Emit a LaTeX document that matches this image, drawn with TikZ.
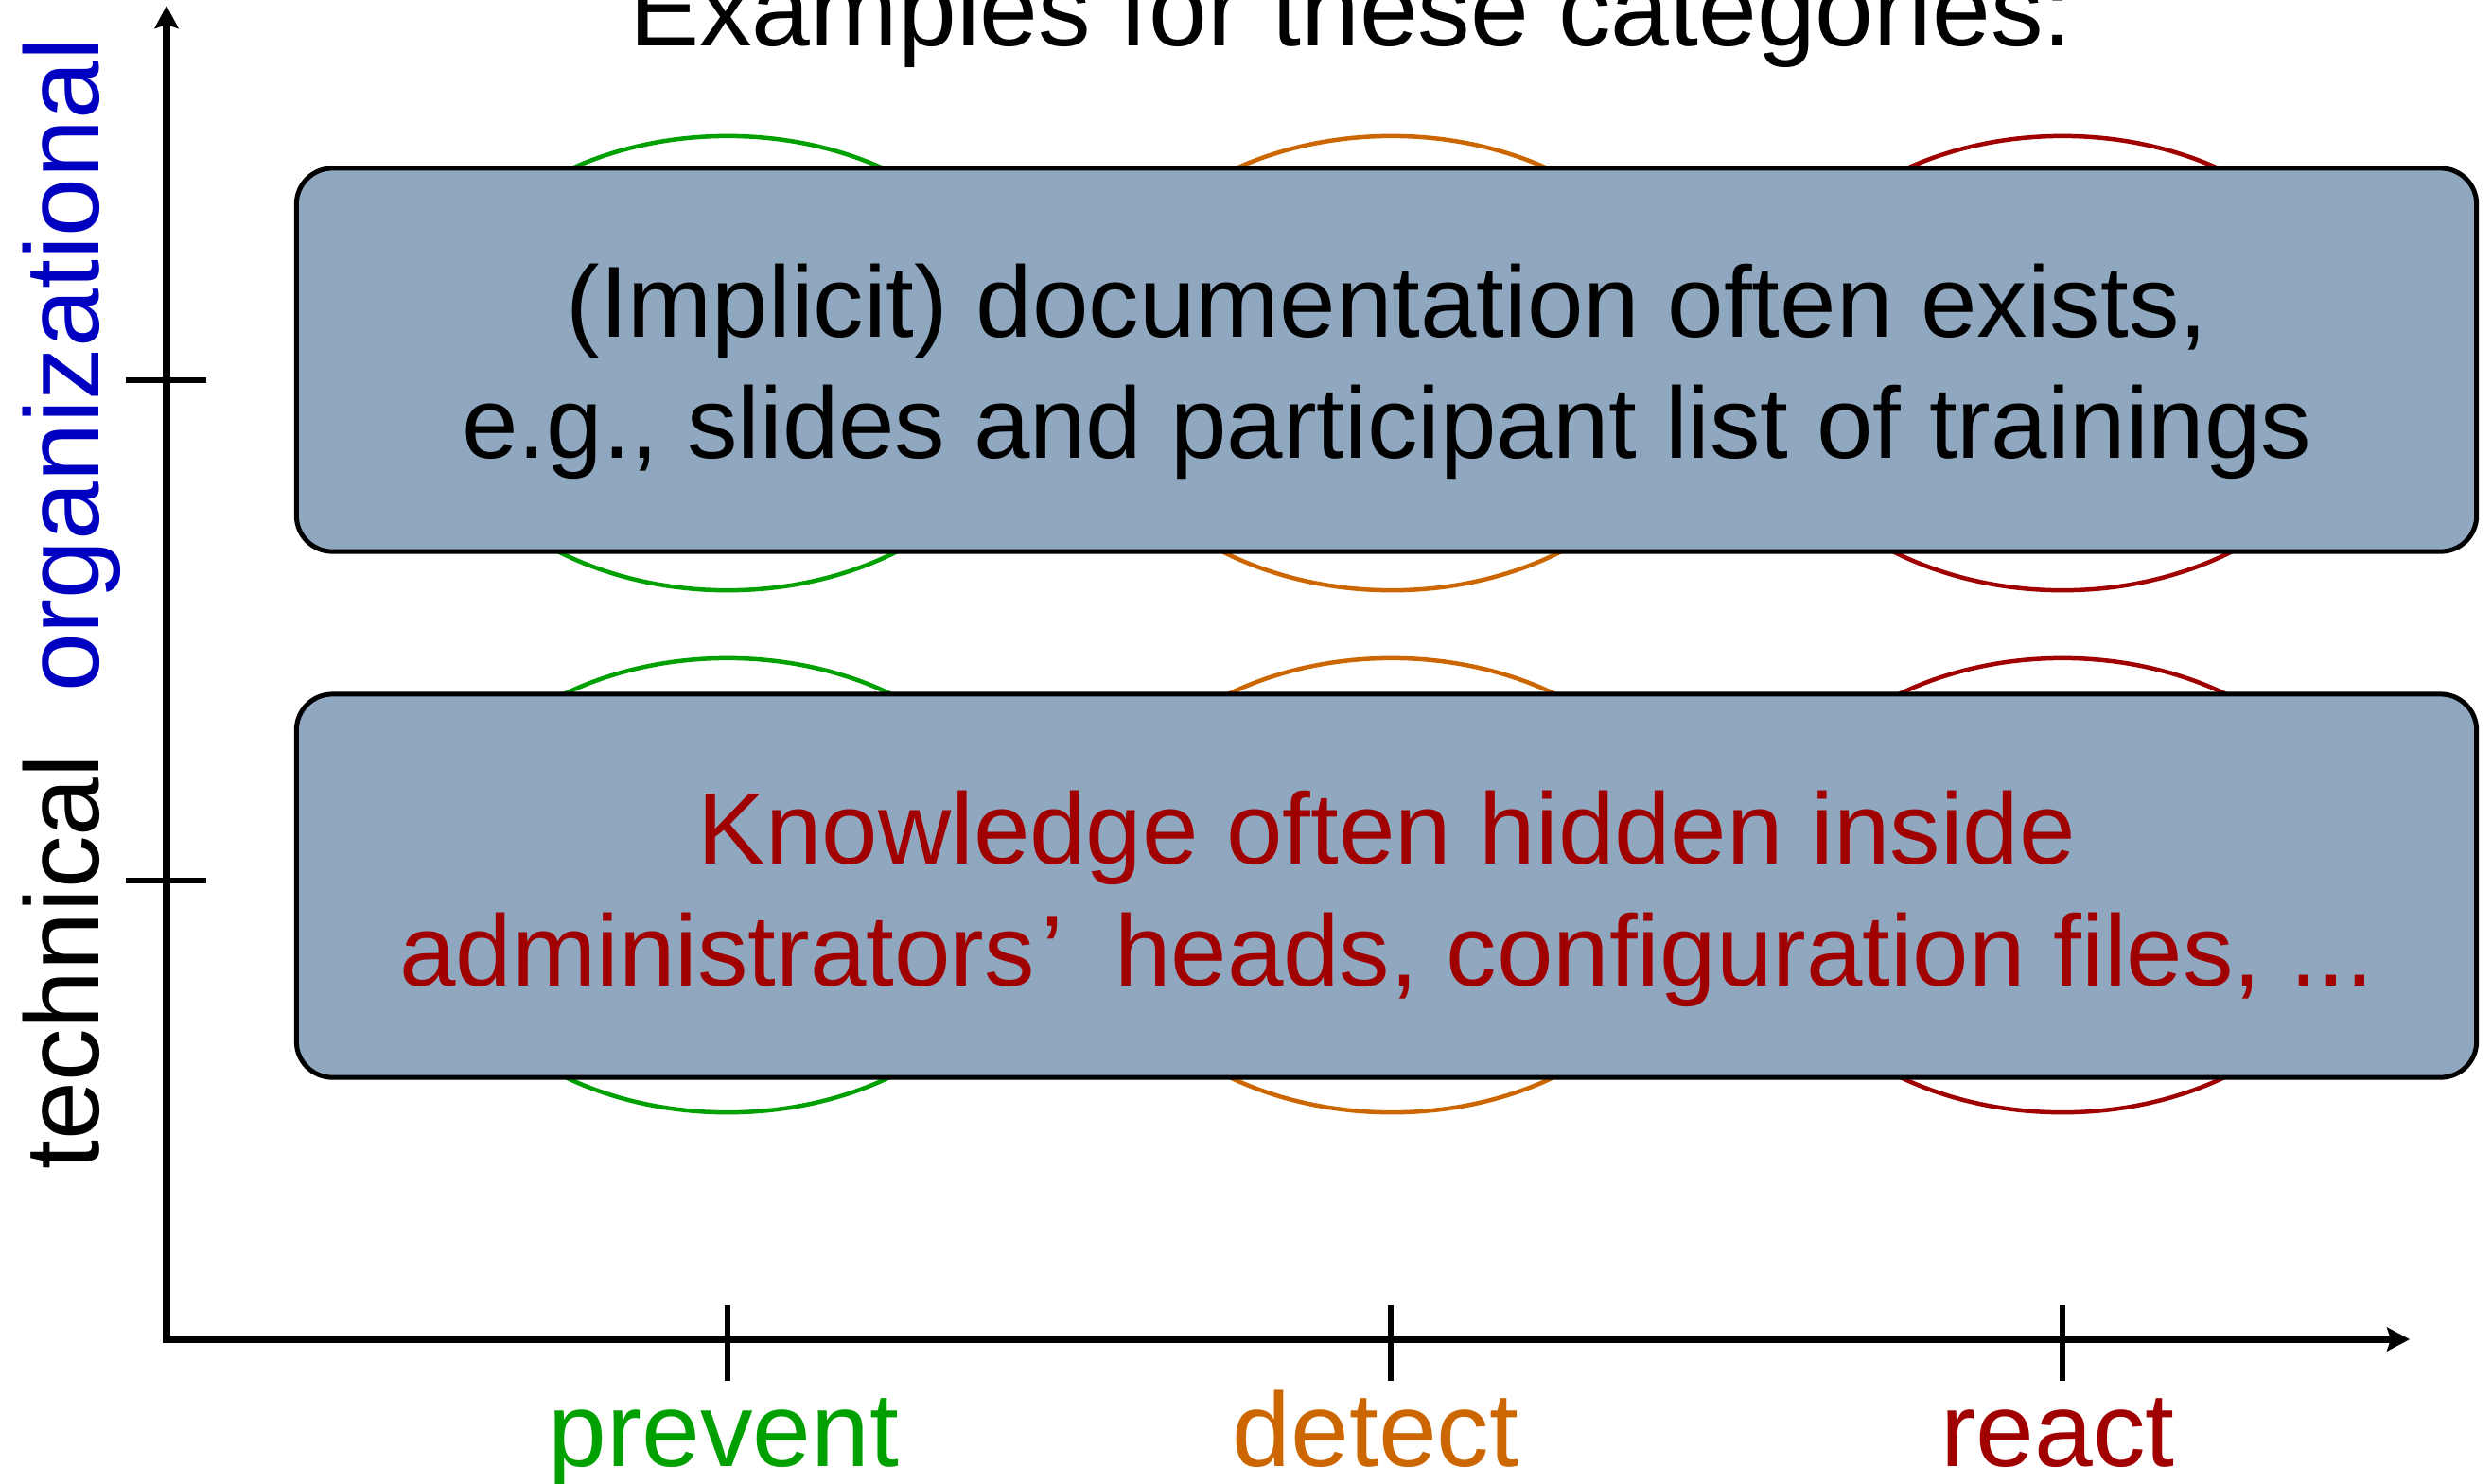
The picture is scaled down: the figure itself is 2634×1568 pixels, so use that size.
\documentclass[tikz,border=0pt]{standalone}
\usepackage{fontspec}
\setmainfont{Liberation Sans}
\usetikzlibrary{shapes.geometric,arrows.meta}

\definecolor{boxfill}{RGB}{143,168,192}
\definecolor{prevgreen}{RGB}{0,160,0}
\definecolor{detorange}{RGB}{204,102,0}
\definecolor{reactred}{RGB}{160,0,0}
\definecolor{orgblue}{RGB}{0,0,192}

\tikzset{
  zone/.style={ellipse, draw, line width=0.045cm, minimum width=6.4cm,
    minimum height=4.8cm, inner sep=0pt},
  examplebox/.style={rectangle, draw=black, fill=boxfill, line width=0.05cm,
    rounded corners=0.38cm, minimum width=23.03cm, minimum height=4.05cm,
    inner sep=0pt},
  boxtext/.style={font=\fontsize{30.4pt}{36.5pt}\selectfont, inner sep=0pt,
    anchor=base},
  labeltext/.style={font=\fontsize{31.6pt}{38pt}\selectfont, inner sep=0pt,
    anchor=base},
  axisline/.style={line width=0.08cm, line join=miter},
  tickline/.style={line width=0.06cm},
}

\begin{document}
\begin{tikzpicture}[x=0.01cm, y=-0.01cm]
\useasboundingbox (0,0) rectangle (2634,1568);

% heading
\node[labeltext] (title) at (1428,48) {Examples for these categories:};

% category zones behind the example boxes
\node[zone, draw=prevgreen]  (orgprev)  at (769,384) {};
\node[zone, draw=detorange]  (orgdet)   at (1471,384) {};
\node[zone, draw=reactred]   (orgreact) at (2180,384) {};
\node[zone, draw=prevgreen]  (techprev)  at (769,936) {};
\node[zone, draw=detorange]  (techdet)   at (1471,936) {};
\node[zone, draw=reactred]   (techreact) at (2180,936) {};

% example boxes
\node[examplebox] (orgbox)  at (1465.5,380.5) {};
\node[examplebox] (techbox) at (1465.5,936.5) {};

\node[boxtext] (orgline1) at (1466,356) {(Implicit) documentation often exists,};
\node[boxtext] (orgline2) at (1466,484) {e.g., slides and participant list of trainings};
\node[boxtext, text=reactred] (techline1) at (1466,913) {Knowledge often hidden inside};
\node[boxtext, text=reactred] (techline2) at (1466,1042)
  {administrators\kern0.06em’\kern0.23em\ heads, configuration files, ...};

% axes
\coordinate (origin) at (176,1416);
\coordinate (ytop)   at (176,6);
\coordinate (xright) at (2547,1416);
\draw[axisline, {Stealth[length=0.24cm,width=0.25cm,inset=0.04cm]}-{Stealth[length=0.24cm,width=0.25cm,inset=0.04cm]}]
  (ytop) -- (origin) -- (xright);

% ticks
\draw[tickline] (133,402) -- (218,402);
\draw[tickline] (133,931) -- (218,931);
\draw[tickline] (769,1380) -- (769,1460);
\draw[tickline] (1470,1380) -- (1470,1460);
\draw[tickline] (2180,1380) -- (2180,1460);

% axis labels
\node[labeltext, text=prevgreen] (lprev)  at (765,1550) {prevent};
\node[labeltext, text=detorange] (ldet)   at (1454,1550) {detect};
\node[labeltext, text=reactred]  (lreact) at (2175,1550) {react};
\node[labeltext, text=orgblue, rotate=90] (lorg)  at (104,386) {organizational};
\node[labeltext, rotate=90] (ltech) at (104,1017) {technical};
\end{tikzpicture}
\end{document}
